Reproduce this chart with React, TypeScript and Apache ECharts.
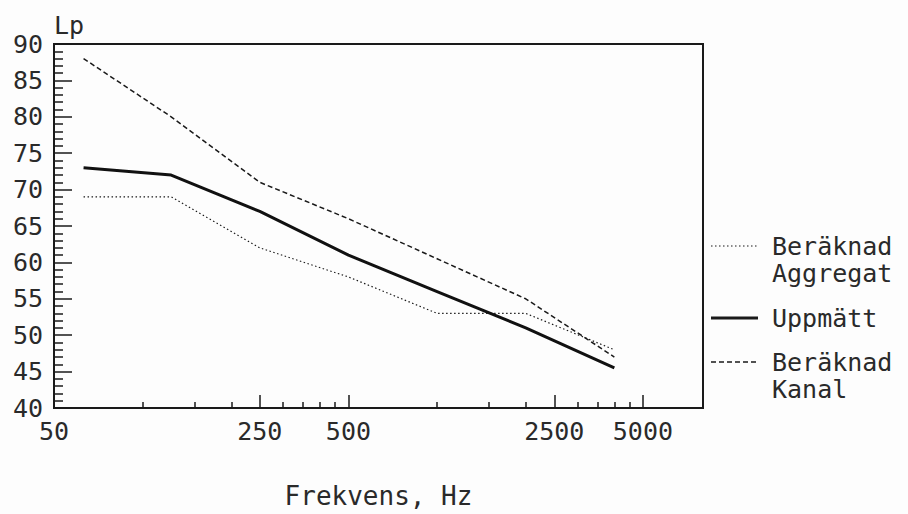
import React, { useEffect, useRef } from 'react';
import * as echarts from 'echarts';

// Octave band centre frequencies (Hz)
const frequencies = [63, 125, 250, 500, 1000, 2000, 4000];
// Sound pressure levels Lp (dB)
const beraknadAggregat = [69, 69, 62, 58, 53, 53, 48];
const uppmatt = [73, 72, 67, 61, 56, 51, 45.5];
const beraknadKanal = [88, 80, 71, 66, 60.5, 55, 47];

const seriesNames = ['Beräknad Aggregat', 'Uppmätt', 'Beräknad Kanal'];

// Axis definitions
const xMin = 50;
const xMax = 8000;
const xLabelValues = [50, 250, 500, 2500, 5000];
const xMajorTicks = [250, 500, 2500, 5000];
const xMinorTicks = [100, 150, 200, 300, 350, 400, 450, 1000, 1500, 2000, 3000, 3500, 4000, 4500];
const yMin = 40;
const yMax = 90;
const yStep = 5;

const FONT = 'DejaVu Sans Mono';
const INK = '#1a1a1a';
const TEXT = '#2a2a2a';

export default function App() {
  const ref = useRef<HTMLDivElement>(null);

  useEffect(() => {
    if (!ref.current) return;
    const chart = echarts.init(ref.current, undefined, { renderer: 'svg' });
    const lg = (v: number) => Math.log10(v);
    const toData = (vals: number[]) => frequencies.map((f, i) => [lg(f), vals[i]]);

    const legendRows = [
      { y: 246, lines: ['Beräknad', 'Aggregat'], width: 1.2, dash: [1.5, 2.5] },
      { y: 318, lines: ['Uppmätt'], width: 3, dash: null },
      { y: 362, lines: ['Beräknad', 'Kanal'], width: 1.5, dash: [5, 3] },
    ];
    const graphics: any[] = [];
    legendRows.forEach((r) => {
      graphics.push({
        type: 'line',
        shape: { x1: 711, y1: r.y, x2: 758, y2: r.y },
        style: { stroke: INK, lineWidth: r.width, lineDash: r.dash || undefined },
      });
      r.lines.forEach((t, k) => {
        graphics.push({
          type: 'text',
          x: 772,
          y: r.y + k * 27,
          style: {
            text: t,
            font: `25px "${FONT}"`,
            lineHeight: 25,
            fill: TEXT,
            verticalAlign: 'middle',
            align: 'left',
          },
        });
      });
    });

    const axisCommon = {
      type: 'value' as const,
      min: lg(xMin),
      max: lg(xMax),
      gridIndex: 0,
      position: 'bottom' as const,
      splitLine: { show: false },
    };

    chart.setOption({
      animation: false,
      backgroundColor: '#fdfdfd',
      grid: {
        left: 54,
        right: 205,
        top: 44,
        bottom: 106,
        show: true,
        borderColor: INK,
        borderWidth: 2,
        backgroundColor: 'transparent',
      },
      xAxis: [
        {
          ...axisCommon,
          name: 'Frekvens, Hz',
          nameLocation: 'middle',
          nameGap: 75,
          nameTextStyle: { fontFamily: FONT, fontSize: 26, color: TEXT },
          axisLine: { show: true, lineStyle: { color: INK, width: 2 } },
          axisTick: {
            show: true,
            inside: true,
            length: 13,
            lineStyle: { color: INK, width: 1.5 },
            customValues: xMajorTicks.map(lg),
          },
          axisLabel: {
            show: true,
            margin: 11,
            fontFamily: FONT,
            fontSize: 25,
            color: TEXT,
            customValues: xLabelValues.map(lg),
            formatter: (v: number) => String(Math.round(Math.pow(10, v))),
          },
        },
        {
          ...axisCommon,
          axisLine: { show: false },
          axisTick: {
            show: true,
            inside: true,
            length: 6,
            lineStyle: { color: INK, width: 1.5 },
            customValues: xMinorTicks.map(lg),
          },
          axisLabel: { show: false },
        },
      ],
      yAxis: {
        type: 'value',
        min: yMin,
        max: yMax,
        interval: yStep,
        name: 'Lp',
        nameLocation: 'end',
        nameGap: 6,
        nameTextStyle: {
          fontFamily: FONT,
          fontSize: 25,
          color: TEXT,
          align: 'left',
          verticalAlign: 'bottom',
        },
        axisLine: { show: true, lineStyle: { color: INK, width: 2 } },
        axisTick: { show: true, inside: true, length: 18, lineStyle: { color: INK, width: 1.5 } },
        minorTick: { show: true, splitNumber: 5, length: 9, lineStyle: { color: INK, width: 1.5 } },
        splitLine: { show: false },
        minorSplitLine: { show: false },
        axisLabel: { margin: 11, fontFamily: FONT, fontSize: 25, color: TEXT },
      },
      series: [
        {
          name: seriesNames[0],
          type: 'line',
          xAxisIndex: 0,
          symbol: 'none',
          data: toData(beraknadAggregat),
          lineStyle: { color: INK, width: 1.2, type: [1.5, 2.5] },
        },
        {
          name: seriesNames[1],
          type: 'line',
          xAxisIndex: 0,
          symbol: 'none',
          data: toData(uppmatt),
          lineStyle: { color: '#111', width: 3, type: 'solid' },
        },
        {
          name: seriesNames[2],
          type: 'line',
          xAxisIndex: 0,
          symbol: 'none',
          data: toData(beraknadKanal),
          lineStyle: { color: INK, width: 1.5, type: [5, 3] },
        },
      ],
      graphic: graphics,
    });

    return () => chart.dispose();
  }, []);

  return (
    <div
      ref={ref}
      style={{ position: 'absolute', left: 0, top: 0, width: 908, height: 514 }}
    />
  );
}
